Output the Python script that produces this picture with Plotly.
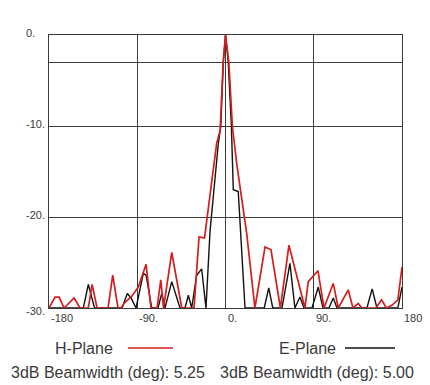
import plotly.graph_objects as go

# H-Plane (red) pattern: angle (deg) and normalized gain (dB)
h_angle = [-180, -173.8, -169.7, -164.6, -154.4, -148.3, -139.9, -136, -131, -119.8, -115,
           -109.6, -106.5, -103.5, -95.6, -88.9, -81, -76, -69.8, -66, -63.2, -54.8, -44.6,
           -32.1, -27, -21.4, -9, -5.5, -2.4, 0, 3.4, 7, 11.4, 21.6, 30, 40.3, 46.4, 56, 64.7,
           81, 84.4, 94.3, 100.4, 109.9, 115, 125.2, 130, 135.4, 139.1, 153.4, 159.2, 164.1,
           169.7, 175.8, 180]
h_db = [-30, -28.8, -28.8, -30, -28.9, -30, -30, -27.4, -30, -30, -26.4,
        -30, -30, -29.5, -28.7, -27.7, -25.2, -30, -30, -26.9, -30, -23.9, -30,
        -30, -22.2, -22.3, -11.9, -10.5, -3, 0, -3, -10, -14.1, -21.8, -30, -23.3, -23.6, -30, -23.1,
        -30, -27.1, -25.9, -30, -27.3, -30, -28, -30, -29.5, -30, -30, -29.1, -30,
        -29.7, -29.1, -25.5]

# E-Plane (black) pattern
e_angle = [-180, -145, -139.9, -133.6, -105.5, -100.1, -96.3, -91.2, -83.8, -81, -75.2, -68.8,
           -65, -61.7, -54.8, -46.4, -41.3, -37.9, -34.5, -29.4, -24.3, -19.9, -15.8, -7.3,
           -4.8, -2.2, 0, 2.8, 6, 7.95, 13, 19.9, 39.5, 44.1, 48.2, 57.6, 65.7, 70.8, 75.9, 80,
           88.2, 94.6, 99.4, 105.5, 109.9, 113.7, 144.2, 149.6, 154.4, 175.8, 180]
e_db = [-30, -30, -27.4, -30, -30, -28.4, -28.9, -30, -26.2, -26.4, -30, -30,
        -28.4, -30, -27.1, -30, -30, -28.6, -30, -26.4, -25.7, -30, -21.6, -11.9,
        -10, -3, 0, -3, -10, -17, -17.2, -30, -30, -27.8, -30, -30, -25.1, -30, -28.8, -30,
        -30, -27.7, -30, -30, -28.9, -30, -30, -27.9, -30, -30, -27.7]

x_ticks = [-180, -90, 0, 90, 180]
x_tick_text = ["-180", "-90.", "0.", "90.", "180"]
y_ticks = [0, -10, -20, -30]
y_tick_text = ["0.", "-10.", "-20.", "-30."]
y_grid = [0, -3, -10, -20, -30]

legend_labels = ["H-Plane", "E-Plane"]
beamwidths = [5.25, 5.00]

RED = "#d41e1e"
BLACK = "#111111"
GRID = "#3a3a3a"
TXT = "#3a3a3a"

fig = go.Figure()
fig.add_trace(go.Scatter(x=e_angle, y=e_db, mode="lines",
                         line=dict(color=BLACK, width=1.4), name=legend_labels[1],
                         showlegend=False, cliponaxis=True))
fig.add_trace(go.Scatter(x=h_angle, y=h_db, mode="lines",
                         line=dict(color=RED, width=1.7), name=legend_labels[0],
                         showlegend=False, cliponaxis=True))

fig.update_xaxes(range=[-180, 180], tickvals=x_ticks, showticklabels=False,
                 showgrid=True, gridcolor=GRID, gridwidth=1.2, zeroline=False,
                 showline=True, linecolor=GRID, linewidth=1.2, mirror=True, ticks="")
fig.update_yaxes(range=[-30, 0], tickvals=y_grid, showticklabels=False,
                 showgrid=True, gridcolor=GRID, gridwidth=1.2, zeroline=False,
                 showline=True, linecolor=GRID, linewidth=1.2, mirror=True, ticks="")

W, H = 430, 385
L, R, T, B = 49, 28, 35, 77
pw, ph = W - L - R, H - T - B

ann = []
for v, t in zip(x_ticks, x_tick_text):
    ann.append(dict(x=v, y=-30, xref="x", yref="y", text=t, showarrow=False,
                    xanchor="left", yanchor="top", xshift=0, yshift=-2,
                    font=dict(family="Liberation Sans, Arial", size=11, color=TXT)))
for v, t in zip(y_ticks, y_tick_text):
    ann.append(dict(x=(24 - L) / pw, y=v, xref="paper", yref="y", text=t, showarrow=False,
                    xanchor="left", yanchor="middle", yshift=(-3 if v == -30 else 2),
                    font=dict(family="Liberation Sans, Arial", size=11, color=TXT)))

def px_x(p):
    return (p - L) / pw

def px_y(p):
    return (H - B - p) / ph

big = dict(family="Liberation Sans, Arial", size=16, color=TXT)
ann.append(dict(x=px_x(53), y=px_y(348), xref="paper", yref="paper", text=legend_labels[0],
                showarrow=False, xanchor="left", yanchor="middle", font=big))
ann.append(dict(x=px_x(277), y=px_y(348), xref="paper", yref="paper", text=legend_labels[1],
                showarrow=False, xanchor="left", yanchor="middle", font=big))
ann.append(dict(x=px_x(9), y=px_y(372), xref="paper", yref="paper",
                text=f"3dB Beamwidth (deg): {beamwidths[0]:.2f}",
                showarrow=False, xanchor="left", yanchor="middle", font=big))
ann.append(dict(x=px_x(218), y=px_y(372), xref="paper", yref="paper",
                text=f"3dB Beamwidth (deg): {beamwidths[1]:.2f}",
                showarrow=False, xanchor="left", yanchor="middle", font=big))

shapes = [
    dict(type="line", xref="paper", yref="paper", x0=px_x(128), x1=px_x(173),
         y0=px_y(348), y1=px_y(348), line=dict(color=RED, width=1.6)),
    dict(type="line", xref="paper", yref="paper", x0=px_x(345), x1=px_x(395),
         y0=px_y(348), y1=px_y(348), line=dict(color=BLACK, width=1.6)),
]

fig.update_layout(width=W, height=H, margin=dict(l=L, r=R, t=T, b=B, pad=0),
                  paper_bgcolor="white", plot_bgcolor="white",
                  annotations=ann, shapes=shapes, showlegend=False)

fig.write_html("out.html")
